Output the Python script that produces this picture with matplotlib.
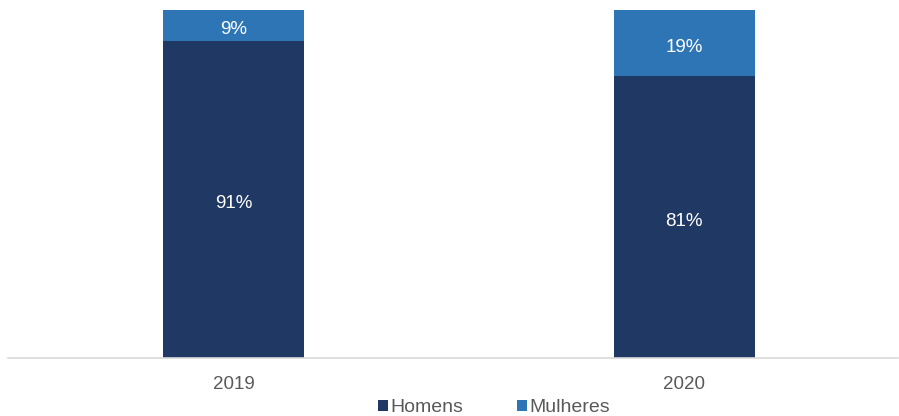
import matplotlib
matplotlib.use("Agg")
import matplotlib.pyplot as plt
import matplotlib.transforms as mtransforms
import numpy as np

plt.rcParams['font.family'] = ['Liberation Sans', 'DejaVu Sans']

# data
anos = ["2019", "2020"]
homens = [91, 81]
mulheres = [9, 19]

cor_homens = "#203864"
cor_mulheres = "#2E75B6"

fig = plt.figure(figsize=(8.99, 4.16), dpi=100)
ax = fig.add_axes([8 / 899, 58 / 416, 890 / 899, 348 / 416])

x = np.arange(len(anos))
largura = 0.313
b1 = ax.bar(x, homens, largura, color=cor_homens, label="Homens")
b2 = ax.bar(x, mulheres, largura, bottom=homens, color=cor_mulheres, label="Mulheres")

# shift the value labels down a couple of pixels
desloc = mtransforms.offset_copy(ax.transData, fig=fig, x=0, y=-2, units="dots")

for rect, v in zip(b1, homens):
    ax.text(rect.get_x() + rect.get_width() / 2, v / 2, f"{v}%", transform=desloc,
            ha="center", va="center_baseline", color="white", fontsize=13.5)
for rect, v, base in zip(b2, mulheres, homens):
    ax.text(rect.get_x() + rect.get_width() / 2, base + v / 2, f"{v}%", transform=desloc,
            ha="center", va="center_baseline", color="white", fontsize=13.5)

ax.set_xlim(-0.5006, 1.475)
ax.set_ylim(0, 100)
ax.set_xticks(x)
ax.set_xticklabels(anos, fontsize=13.5, color="#595959")
ax.tick_params(axis="x", length=0, pad=13)
ax.set_yticks([])
for s in ["top", "left", "right"]:
    ax.spines[s].set_visible(False)
ax.spines["bottom"].set_color("#D9D9D9")
ax.spines["bottom"].set_linewidth(1.2)

fig.legend(handles=[b1, b2], labels=["Homens", "Mulheres"], loc="center",
           bbox_to_anchor=(494 / 899, 1 - 408 / 416), ncol=2, frameon=False,
           fontsize=14, labelcolor="#595959", handlelength=0.5, handleheight=0.5,
           handletextpad=0.12, columnspacing=2.8)

fig.savefig("out.png", dpi=100)
